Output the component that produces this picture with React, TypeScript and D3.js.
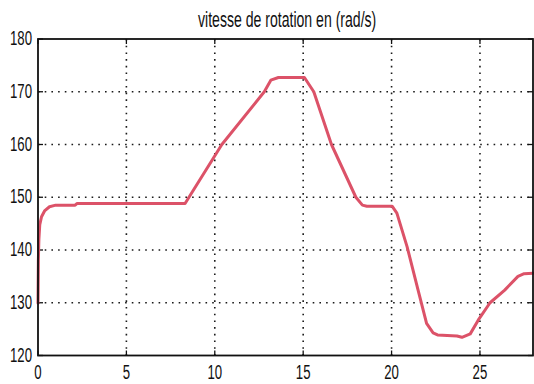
import React from "react";
import * as d3 from "d3";

// Rotor speed trace: time (s) and speed (rad/s)
const timeS = [
  0, 0.02, 0.05, 0.1, 0.2, 0.37, 0.65, 1.0, 2.1, 2.2, 8.32, 10.4, 12.8, 13.17,
  13.6, 15.07, 15.6, 16.6, 17.98, 18.35, 18.6, 20.03, 20.3, 20.88, 21.5, 21.98,
  22.35, 22.6, 23.7, 23.98, 24.45, 24.9, 25.57, 26.4, 27.15, 27.5, 28,
];
const speed = [
  129.9, 138, 142, 144.8, 146.3, 147.4, 148.2, 148.5, 148.5, 148.8, 148.8, 160,
  170, 172.2, 172.7, 172.7, 170, 160, 150, 148.5, 148.3, 148.3, 147, 140.6,
  132.4, 126.1, 124.3, 123.9, 123.7, 123.45, 124.1, 126.7, 130, 132.4, 135.0,
  135.5, 135.6,
];
const xTicks = [0, 5, 10, 15, 20, 25];
const yTicks = [120, 130, 140, 150, 160, 170, 180];
const title = "vitesse de rotation en (rad/s)";

const W = 534;
const H = 384;
const box = { left: 38, right: 533, top: 39, bottom: 355.5 };

// condensed tick label: tall digits squeezed horizontally
function Label(props: {
  x: number;
  y: number;
  text: string;
  anchor: "start" | "middle" | "end";
}) {
  const sx = 0.66;
  return (
    <g transform={`translate(${props.x},${props.y}) scale(${sx},1)`}>
      <text x={0} y={0} textAnchor={props.anchor} fontSize={20} fill="#111">
        {props.text}
      </text>
    </g>
  );
}

export default function App() {
  const x = d3.scaleLinear().domain([0, 28]).range([box.left, box.right]);
  const y = d3.scaleLinear().domain([120, 180]).range([box.bottom, box.top]);
  const pts: [number, number][] = timeS.map((t, i) => [t, speed[i]]);
  const line = d3
    .line<[number, number]>()
    .x((d) => x(d[0]))
    .y((d) => y(d[1]));

  const gridColor = "#1a1a1a";
  const tickLen = 5;

  return (
    <svg
      width={W}
      height={H}
      style={{ position: "absolute", left: 0, top: 0, background: "#fff" }}
      fontFamily="'Liberation Sans', Arial, sans-serif"
    >
      <rect x={0} y={0} width={W} height={H} fill="#fff" />
      {/* dotted grid */}
      {xTicks.slice(1).map((t) => (
        <line
          key={"gx" + t}
          x1={x(t)}
          x2={x(t)}
          y1={box.top}
          y2={box.bottom}
          stroke={gridColor}
          strokeWidth={1.6}
          strokeDasharray="1.6 5.1"
        />
      ))}
      {yTicks.slice(1, -1).map((v) => (
        <line
          key={"gy" + v}
          x1={box.left}
          x2={box.right}
          y1={y(v)}
          y2={y(v)}
          stroke={gridColor}
          strokeWidth={1.6}
          strokeDasharray="1.6 5.1"
        />
      ))}
      {/* inward ticks on all four sides */}
      {xTicks.map((t) => (
        <g key={"tx" + t} stroke="#111" strokeWidth={1.3}>
          <line x1={x(t)} x2={x(t)} y1={box.bottom} y2={box.bottom - tickLen} />
          <line x1={x(t)} x2={x(t)} y1={box.top} y2={box.top + tickLen} />
        </g>
      ))}
      {yTicks.map((v) => (
        <g key={"ty" + v} stroke="#111" strokeWidth={1.3}>
          <line x1={box.left} x2={box.left + tickLen} y1={y(v)} y2={y(v)} />
          <line x1={box.right} x2={box.right - tickLen} y1={y(v)} y2={y(v)} />
        </g>
      ))}
      {/* speed curve */}
      <path
        d={line(pts) ?? ""}
        fill="none"
        stroke="#dc5268"
        strokeWidth={3}
        strokeLinejoin="round"
        strokeLinecap="round"
      />
      {/* axes box */}
      <rect
        x={box.left}
        y={box.top}
        width={box.right - box.left}
        height={box.bottom - box.top}
        fill="none"
        stroke="#111"
        strokeWidth={1.8}
      />
      {/* tick labels */}
      {xTicks.map((t) => (
        <Label key={"lx" + t} x={x(t)} y={379} text={String(t)} anchor="middle" />
      ))}
      {yTicks.map((v) => (
        <Label key={"ly" + v} x={32} y={y(v) + 6} text={String(v)} anchor="end" />
      ))}
      {/* title */}
      <g transform="translate(198,27) scale(0.64,1)">
        <text x={0} y={0} fontSize={22} fill="#111">
          {title}
        </text>
      </g>
    </svg>
  );
}
